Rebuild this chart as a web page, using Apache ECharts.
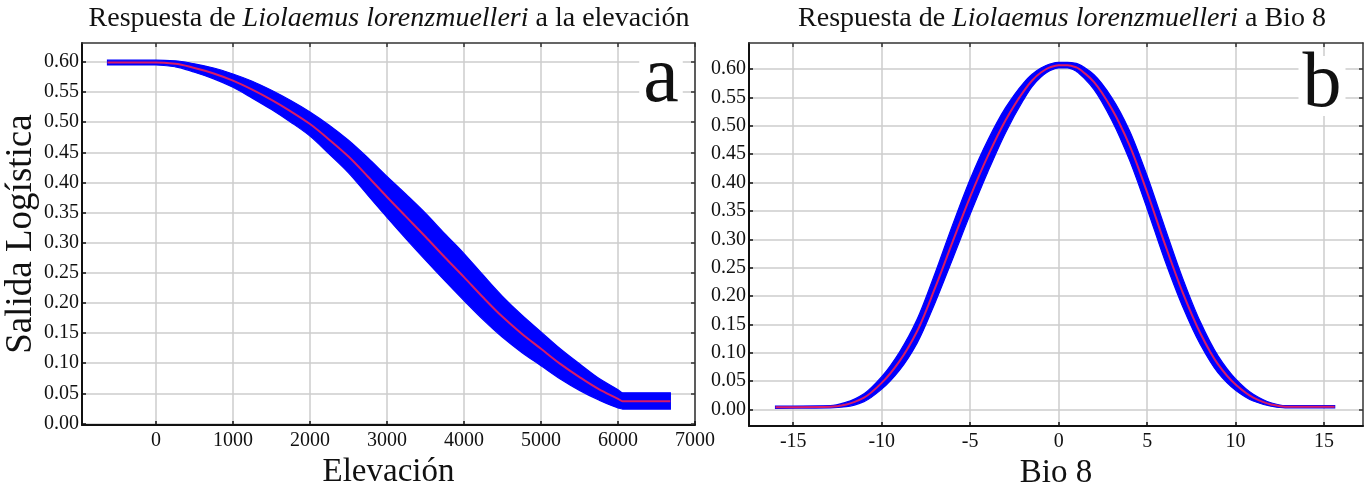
<!DOCTYPE html>
<html><head><meta charset="utf-8">
<script src="https://cdn.jsdelivr.net/npm/echarts@6/dist/echarts.min.js"></script>
<style>html,body{margin:0;padding:0;background:#fff}#c{width:1366px;height:482px}</style>
</head><body><div id="c"></div>
<script>
// ---- Panel a: elevation ----
const elevX    = [-630, 0, 250, 500, 750, 1000, 1250, 1500, 1750, 2000, 2250, 2500, 2750, 3000, 3250, 3500, 3750, 4000, 4250, 4500, 4750, 5000, 5250, 5500, 5750, 6000, 6060, 6680];
const elevMean = [0.599,0.599,0.597,0.590,0.581,0.569,0.554,0.537,0.518,0.497,0.471,0.443,0.410,0.376,0.343,0.310,0.276,0.243,0.209,0.177,0.149,0.124,0.099,0.077,0.057,0.041,0.037,0.037];
const elevHi   = [0.603,0.603,0.602,0.597,0.590,0.580,0.568,0.553,0.536,0.517,0.495,0.470,0.441,0.410,0.380,0.349,0.315,0.282,0.246,0.211,0.180,0.152,0.124,0.099,0.075,0.056,0.051,0.051];
const elevLo   = [0.595,0.595,0.592,0.583,0.572,0.558,0.540,0.521,0.500,0.477,0.447,0.416,0.379,0.342,0.306,0.271,0.237,0.204,0.172,0.143,0.118,0.096,0.074,0.055,0.039,0.026,0.024,0.024];
const elevTicks = [0,1000,2000,3000,4000,5000,6000,7000];

// ---- Panel b: Bio 8 ----
const bioX    = [-16.0,-12.9,-12,-11,-10,-9,-8,-7,-6,-5,-4,-3,-2,-1.5,-1,-0.5,0,0.5,1,1.5,2,3,4,5,6,7,8,9,10,11,12,12.8,15.6];
const bioMean = [0.004,0.005,0.009,0.021,0.047,0.085,0.138,0.213,0.295,0.375,0.447,0.510,0.560,0.580,0.594,0.603,0.607,0.607,0.603,0.592,0.577,0.530,0.466,0.383,0.292,0.207,0.135,0.080,0.044,0.021,0.009,0.005,0.005];
const bioHi   = [0.006,0.007,0.013,0.028,0.058,0.101,0.159,0.239,0.325,0.406,0.475,0.532,0.575,0.591,0.602,0.609,0.612,0.612,0.610,0.602,0.590,0.550,0.492,0.412,0.321,0.232,0.155,0.095,0.054,0.027,0.012,0.007,0.007];
const bioLo   = [0.002,0.003,0.005,0.014,0.036,0.069,0.117,0.187,0.265,0.344,0.419,0.488,0.545,0.569,0.586,0.597,0.602,0.602,0.596,0.582,0.564,0.510,0.440,0.354,0.263,0.182,0.115,0.065,0.034,0.015,0.006,0.003,0.003];
const bioTicks = [-15,-10,-5,0,5,10,15];

const yTicks = [0,0.05,0.10,0.15,0.20,0.25,0.30,0.35,0.40,0.45,0.50,0.55,0.60];

const titleA = 'Respuesta de {i|Liolaemus lorenzmuelleri} a la elevación';
const titleB = 'Respuesta de {i|Liolaemus lorenzmuelleri} a Bio 8';

const FONT = "'Liberation Serif','Times New Roman',serif";
const TXT = '#111';
const GRIDC = '#cdcdcd';

function xAxes(grid, min, max, ticks, name){
  return [
    { gridIndex:grid, type:'value', min, max, position:'bottom',
      name, nameLocation:'middle', nameGap:10,
      nameTextStyle:{fontFamily:FONT,fontSize:33,color:TXT},
      axisLine:{onZero:false,lineStyle:{color:'#111',width:2}},
      axisTick:{inside:true,length:4,customValues:ticks,lineStyle:{color:'#111',width:1.5}},
      axisLabel:{customValues:ticks,fontFamily:FONT,fontSize:20,color:TXT,margin:6,formatter:v=>String(v)},
      splitLine:{show:true,lineStyle:{color:GRIDC,width:1.5}} },
    { gridIndex:grid, type:'value', min, max, position:'top',
      axisLine:{onZero:false,lineStyle:{color:'#333',width:1.5}},
      axisTick:{inside:true,length:4,customValues:ticks,lineStyle:{color:'#333',width:1.5}},
      axisLabel:{show:false}, splitLine:{show:false} }
  ];
}
function yAxes(grid, min, max, name){
  return [
    { gridIndex:grid, type:'value', min, max, position:'left',
      name, nameLocation:'middle', nameGap:38, nameRotate:90,
      nameTextStyle:{fontFamily:FONT,fontSize:37,color:TXT},
      axisLine:{onZero:false,lineStyle:{color:'#111',width:2}},
      axisTick:{inside:true,length:4,customValues:yTicks,lineStyle:{color:'#111',width:1.5}},
      axisLabel:{customValues:yTicks,fontFamily:FONT,fontSize:20,color:TXT,margin:3,
        formatter:v=>Number(v).toFixed(2)},
      splitLine:{show:true,lineStyle:{color:GRIDC,width:1.5}} },
    { gridIndex:grid, type:'value', min, max, position:'right',
      axisLine:{onZero:false,lineStyle:{color:'#333',width:1.5}},
      axisTick:{inside:true,length:4,customValues:yTicks,lineStyle:{color:'#333',width:1.5}},
      axisLabel:{show:false}, splitLine:{show:false} }
  ];
}

// monotone cubic (Fritsch-Butland) bezier segments through pixel points
function slopes(p){
  const n = p.length, d = [], m = [];
  for (let k=0;k<n-1;k++){ const h = p[k+1][0]-p[k][0]; d.push(h===0?0:(p[k+1][1]-p[k][1])/h); }
  m[0] = d[0]; m[n-1] = d[n-2];
  for (let k=1;k<n-1;k++){
    const h0 = p[k][0]-p[k-1][0], h1 = p[k+1][0]-p[k][0];
    if (d[k-1]*d[k] <= 0) m[k] = 0;
    else m[k] = 3*(h0+h1)/((2*h1+h0)/d[k-1] + (h1+2*h0)/d[k]);
  }
  return m;
}
function segs(p){
  const m = slopes(p), out = [];
  for (let k=0;k<p.length-1;k++){
    const h = (p[k+1][0]-p[k][0])/3;
    out.push([[p[k][0]+h, p[k][1]+m[k]*h],[p[k+1][0]-h, p[k+1][1]-m[k+1]*h], p[k+1]]);
  }
  return out;
}
const f = v => v.toFixed(2);
function curveD(pts){
  let d = 'M' + f(pts[0][0]) + ' ' + f(pts[0][1]);
  segs(pts).forEach(s => { d += ' C' + s.map(q=>f(q[0])+' '+f(q[1])).join(' '); });
  return d;
}
function band(xi, yi, xs, lo, hi){
  return { type:'custom', xAxisIndex:xi, yAxisIndex:yi, data:[[xs[0], lo[0]]], clip:true, silent:true, z:2,
    renderItem(params, api){
      const top = xs.map((x,i)=>api.coord([x, hi[i]]));
      const bot = xs.map((x,i)=>api.coord([x, lo[i]]));
      let d = curveD(top);
      const n = bot.length;
      d += ' L' + f(bot[n-1][0]) + ' ' + f(bot[n-1][1]);
      const bs = segs(bot);
      for (let k=bs.length-1;k>=0;k--){
        const s = bs[k];
        d += ' C' + f(s[1][0])+' '+f(s[1][1])+' '+f(s[0][0])+' '+f(s[0][1])+' '+f(bot[k][0])+' '+f(bot[k][1]);
      }
      d += ' Z';
      return { type:'path', shape:{pathData:d},
        style:{fill:'#0000ff', stroke:'#0000ff', lineWidth:1.2} };
    } };
}
function meanLine(xi, yi, xs, ys){
  return { type:'custom', xAxisIndex:xi, yAxisIndex:yi, data:[[xs[0], ys[0]]], clip:true, silent:true, z:3,
    renderItem(params, api){
      const pts = xs.map((x,i)=>api.coord([x, ys[i]]));
      return { type:'path', shape:{pathData:curveD(pts)},
        style:{fill:null, stroke:'#d81b66', lineWidth:2} };
    } };
}

const titleStyle = {fontFamily:FONT,fontSize:28,fontWeight:'normal',color:TXT,
  rich:{i:{fontFamily:FONT,fontSize:28,fontStyle:'italic',color:TXT}}};

const option = {
  animation:false,
  backgroundColor:'#fff',
  title:[
    {text:titleA, left:389, top:5, textAlign:'center', padding:0, textStyle:titleStyle},
    {text:titleB, left:1062, top:5, textAlign:'center', padding:0, textStyle:titleStyle}
  ],
  grid:[
    {left:82, top:43, width:613, height:382, outerBoundsMode:'none'},
    {left:749, top:43, width:614, height:383, outerBoundsMode:'none'}
  ],
  xAxis:[...xAxes(0, -961, 7000, elevTicks, 'Elevación'), ...xAxes(1, -17.5, 17.2, bioTicks, 'Bio 8')],
  yAxis:[...yAxes(0, -0.0025, 0.6315, 'Salida Logística'), ...yAxes(1, -0.029, 0.646, '')],
  series:[
    band(0, 0, elevX, elevLo, elevHi),
    meanLine(0, 0, elevX, elevMean),
    band(2, 2, bioX, bioLo, bioHi),
    meanLine(2, 2, bioX, bioMean)
  ],
  graphic:[
    {type:'text', x:661, y:80, z:100, style:{text:'a', font:"80px 'Liberation Serif', serif", fill:TXT,
      align:'center', verticalAlign:'middle', lineHeight:56, backgroundColor:'#fff', padding:[0,4]}},
    {type:'text', x:1322, y:86, z:100, style:{text:'b', font:"78px 'Liberation Serif', serif", fill:TXT,
      align:'center', verticalAlign:'middle', lineHeight:60, backgroundColor:'#fff', padding:[0,4]}}
  ]
};
const chart = echarts.init(document.getElementById('c'));
chart.setOption(option);
</script></body></html>
